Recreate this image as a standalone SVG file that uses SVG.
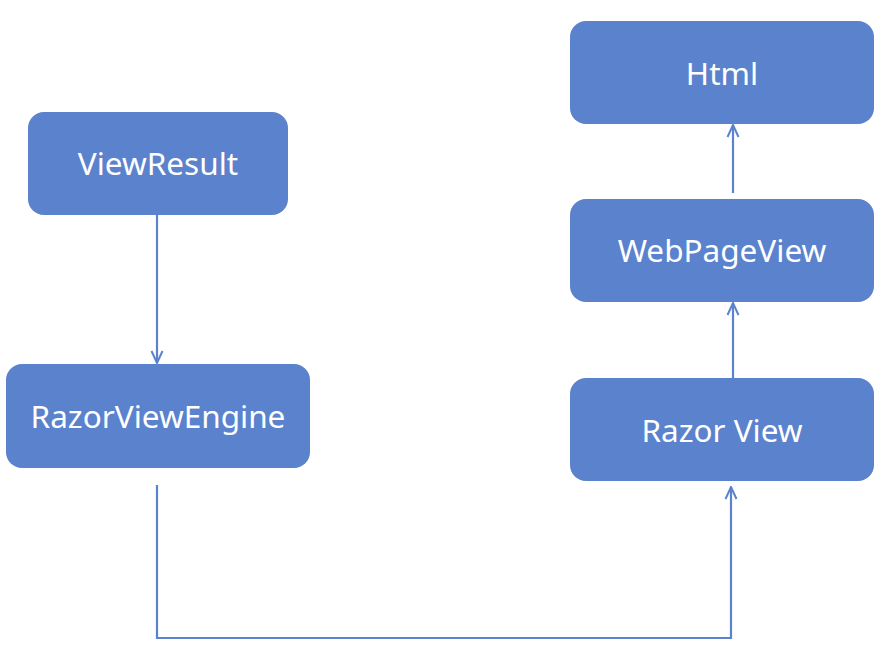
<svg xmlns="http://www.w3.org/2000/svg" width="886" height="656" viewBox="0 0 886 656">
<defs>
<style>
.box{fill:#5b82cd;}
.lbl{fill:#ffffff;font-family:"Noto Sans","Open Sans",sans-serif;font-size:31.5px;text-anchor:middle;dominant-baseline:central;}
.conn{fill:none;stroke:#5b82cd;stroke-width:2.2;}
</style>
<marker id="arr" viewBox="0 0 14 14" refX="13" refY="7" markerWidth="14" markerHeight="14" markerUnits="userSpaceOnUse" orient="auto">
<path d="M1,1.5 L13,7 L1,12.5" fill="none" stroke="#5b82cd" stroke-width="2"/>
</marker>
</defs>
<rect width="886" height="656" fill="#ffffff"/>
<g id="connectors">
<line class="conn" x1="157" y1="215" x2="157" y2="363" marker-end="url(#arr)"/>
<line class="conn" x1="733" y1="193" x2="733" y2="125" marker-end="url(#arr)"/>
<line class="conn" x1="733" y1="378" x2="733" y2="303" marker-end="url(#arr)"/>
<polyline class="conn" points="157,485 157,638 731,638 731,487" marker-end="url(#arr)"/>
</g>
<g id="viewresult">
<rect class="box" x="28" y="112" width="260" height="103" rx="16"/>
<text class="lbl" x="158" y="162">ViewResult</text>
</g>
<g id="razorviewengine">
<rect class="box" x="6" y="364" width="304" height="104" rx="16"/>
<text class="lbl" x="158" y="415">RazorViewEngine</text>
</g>
<g id="html">
<rect class="box" x="570" y="21" width="304" height="103" rx="16"/>
<text class="lbl" x="722" y="72">Html</text>
</g>
<g id="webpageview">
<rect class="box" x="570" y="199" width="304" height="103" rx="16"/>
<text class="lbl" x="722" y="249">WebPageView</text>
</g>
<g id="razorview">
<rect class="box" x="570" y="378" width="304" height="103" rx="16"/>
<text class="lbl" x="722" y="429">Razor View</text>
</g>
</svg>
